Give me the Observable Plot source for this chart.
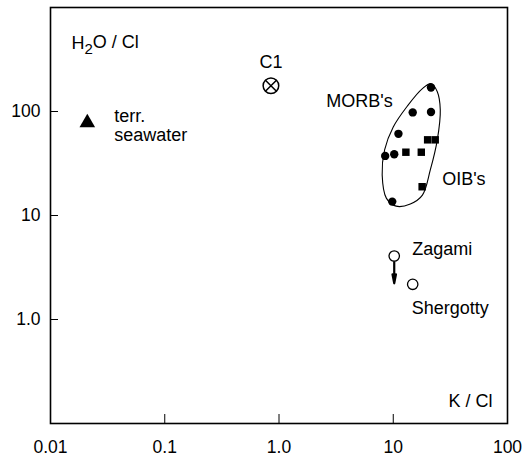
<!DOCTYPE html>
<html>
<head>
<meta charset="utf-8">
<script src="https://cdn.jsdelivr.net/npm/d3@7"></script>
<script src="https://cdn.jsdelivr.net/npm/@observablehq/plot@0.6"></script>
<style>
  html, body { margin: 0; padding: 0; background: #fff; }
  #chart svg { display: block; }
</style>
</head>
<body>
<div id="chart"></div>
<script>
// ---- data ----
const xTicks = [0.01, 0.1, 1, 10, 100];
const xTickLabels = ["0.01", "0.1", "1.0", "10", "100"];
const yTicks = [1, 10, 100];
const yTickLabels = ["1.0", "10", "100"];

const seawaterK = [0.021];
const seawaterH = [78];

const c1K = [0.85];
const c1H = [177];

const morbK = [21.4, 14.8, 21.4, 11.1, 8.5, 10.2, 9.8];
const morbH = [170, 98, 99, 61, 37.4, 38.8, 13.6];

const oibK = [12.9, 17.6, 20.0, 23.3, 17.9];
const oibH = [40.6, 40.6, 53.4, 53.4, 18.9];

const snkNames = ["Zagami", "Shergotty"];
const snkK = [10.2, 14.8];
const snkH = [4.08, 2.18];
const zagamiLimitH = 2.23; // arrow tip (upper limit)

// outline of the MORB/OIB field
const fieldK = [21.5, 24.3, 25.8, 24.3, 21.1, 18.0, 14.1, 10.6, 8.7, 8.0, 8.4, 10.0, 13.3, 18.0];
const fieldH = [185, 155, 104, 53.4, 27.4, 15.7, 12.9, 12.3, 14.7, 24.5, 42.8, 71, 113, 166];

// ---- tables built from the arrays ----
const zip = (xs, ys) => xs.map((x, i) => ({x, y: ys[i]}));
const seawater = zip(seawaterK, seawaterH);
const c1 = zip(c1K, c1H);
const morb = zip(morbK, morbH);
const oib = zip(oibK, oibH);
const snk = snkNames.map((name, i) => ({name, x: snkK[i], y: snkH[i]}));
const field = zip(fieldK, fieldH);
const zagamiArrow = [{x1: snkK[0], y1: snkH[0], x2: snkK[0], y2: zagamiLimitH}];

const font = "'Liberation Sans', Arial, Helvetica, sans-serif";

const plot = Plot.plot({
  width: 522,
  height: 460,
  marginLeft: 50,
  marginRight: 15,
  marginTop: 7,
  marginBottom: 37,
  style: {fontFamily: font, fontSize: "18px", color: "#000", background: "#fff"},
  x: {type: "log", domain: [0.01, 100]},
  y: {type: "log", domain: [0.1, 1000]},
  marks: [
    Plot.axisX(xTicks, {
      tickSize: -9, tickPadding: 26.5, fontSize: 17.5,
      tickFormat: (d) => xTickLabels[xTicks.indexOf(d)], label: null
    }),
    Plot.axisY(yTicks, {
      tickSize: -8, tickPadding: 18, fontSize: 17.5,
      tickFormat: (d) => yTickLabels[yTicks.indexOf(d)], label: null
    }),
    Plot.frame({stroke: "#000", strokeWidth: 1.6}),
    // field outline
    Plot.line(field, {x: "x", y: "y", curve: "catmull-rom-closed", stroke: "#000", strokeWidth: 1.1}),
    // terrestrial seawater
    Plot.dot(seawater, {x: "x", y: "y", symbol: "triangle", r: 5.8, fill: "#000", stroke: "none"}),
    Plot.text(seawater, {x: "x", y: "y", text: () => "terr.\nseawater", textAnchor: "start", lineHeight: 1.1, dx: 27, dy: 2.5, fontSize: 18, fill: "#000"}),
    // C1 chondrite
    Plot.dot(c1, {x: "x", y: "y", r: 7.8, fill: "none", stroke: "#000", strokeWidth: 1.5}),
    Plot.dot(c1, {x: "x", y: "y", symbol: "times", r: 5.3, stroke: "#000", strokeWidth: 1.5}),
    Plot.text(c1, {x: "x", y: "y", text: () => "C1", dy: -23, fontSize: 18, fill: "#000"}),
    // MORB and OIB
    Plot.dot(morb, {x: "x", y: "y", r: 4.2, fill: "#000", stroke: "none"}),
    Plot.dot(oib, {x: "x", y: "y", symbol: "square", r: 4.2, fill: "#000", stroke: "none"}),
    Plot.text(morb.slice(1, 2), {x: "x", y: "y", text: () => "MORB's", textAnchor: "end", dx: -20, dy: -11, fontSize: 18, fill: "#000"}),
    Plot.text(oib.slice(4, 5), {x: "x", y: "y", text: () => "OIB's", textAnchor: "start", dx: 20, dy: -8, fontSize: 18, fill: "#000"}),
    // SNC meteorites
    Plot.arrow(zagamiArrow, {x1: "x1", y1: "y1", x2: "x2", y2: "y2", insetStart: 5.5, headLength: 9, headAngle: 22, stroke: "#000", strokeWidth: 2.2}),
    Plot.dot(snk, {x: "x", y: "y", r: 5.2, fill: "#fff", stroke: "#000", strokeWidth: 1.3}),
    Plot.text(snk.slice(0, 1), {x: "x", y: "y", text: "name", textAnchor: "start", dx: 18, dy: -7, fontSize: 18, fill: "#000"}),
    Plot.text(snk.slice(1, 2), {x: "x", y: "y", text: "name", textAnchor: "start", dx: -1, dy: 24, fontSize: 18, fill: "#000"}),
    // axis titles
    Plot.text(["H2O / Cl"], {frameAnchor: "top-left", text: (d) => d, textAnchor: "start", lineAnchor: "middle", dx: 21, dy: 36, fontSize: 18, fill: "#000"}),
    Plot.text(["K / Cl"], {frameAnchor: "bottom-right", text: (d) => d, textAnchor: "end", lineAnchor: "middle", dx: -15, dy: -22, fontSize: 18, fill: "#000"})
  ]
});

// subscript in H2O
d3.select(plot).selectAll("text").filter(function() { return this.textContent === "H2O / Cl"; })
  .each(function() {
    const t = d3.select(this);
    t.text(null);
    t.append("tspan").text("H");
    t.append("tspan").attr("dy", "0.3em").attr("font-size", "15px").text("2");
    t.append("tspan").attr("dy", "-0.3em").text("O / Cl");
  });

document.getElementById("chart").appendChild(plot);
</script>
</body>
</html>
